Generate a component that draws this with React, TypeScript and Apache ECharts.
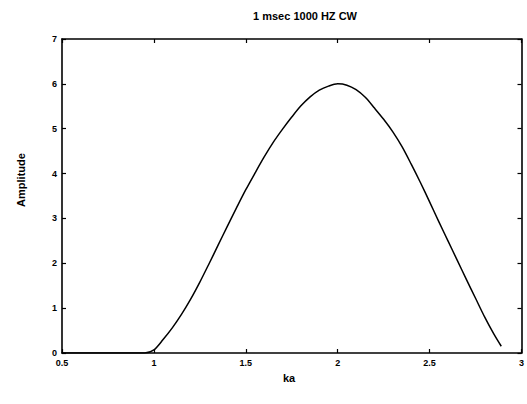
import React, { useEffect, useRef } from "react";
import * as echarts from "echarts";

const titleText = "1 msec 1000 HZ CW";
const xName = "ka";
const yName = "Amplitude";

const kaValues = [
  0.5, 0.95, 1.0, 1.05, 1.1, 1.15, 1.2, 1.25, 1.3, 1.35, 1.4, 1.45, 1.5, 1.55, 1.6, 1.65, 1.7, 1.75, 1.8,
  1.85, 1.9, 1.95, 2.0, 2.05, 2.1, 2.15, 2.2, 2.25, 2.3, 2.35, 2.4, 2.45, 2.5, 2.55, 2.6, 2.65, 2.7, 2.75,
  2.8, 2.85, 2.89,
];
const amplitudeValues = [
  0, 0, 0.07, 0.3, 0.56, 0.86, 1.2, 1.58, 1.99, 2.41, 2.83, 3.24, 3.64, 4.01, 4.37, 4.7, 4.99, 5.26, 5.51,
  5.71, 5.86, 5.95, 6.0, 5.97, 5.87, 5.7, 5.46, 5.21, 4.93, 4.6, 4.21, 3.8, 3.37, 2.93, 2.5, 2.07, 1.64, 1.22,
  0.8, 0.42, 0.15,
];

const xMin = 0.5;
const xMax = 3;
const xStep = 0.5;
const yMin = 0;
const yMax = 7;
const yStep = 1;

export default function App() {
  const ref = useRef<HTMLDivElement>(null);
  useEffect(() => {
    if (!ref.current) return;
    const chart = echarts.init(ref.current, null, { renderer: "svg" });
    const font = "'Liberation Sans', Arial, sans-serif";
    const axisCommon = {
      axisLine: { show: true, onZero: false, lineStyle: { color: "#000", width: 1.6 } },
      axisTick: { show: true, inside: true, length: 4, lineStyle: { color: "#000", width: 1.2 } },
      splitLine: { show: false },
    };
    const labelStyle = { color: "#000", fontFamily: font, fontWeight: "bold" as const, fontSize: 9 };
    chart.setOption({
      animation: false,
      backgroundColor: "#fff",
      grid: { left: 62, top: 39, width: 460, height: 314, containLabel: false },
      xAxis: [
        {
          type: "value", min: xMin, max: xMax, interval: xStep, position: "bottom",
          ...axisCommon,
          axisLabel: { ...labelStyle, margin: 5, formatter: (v: number) => String(v) },
        },
        {
          type: "value", min: xMin, max: xMax, interval: xStep, position: "top",
          ...axisCommon,
          axisLabel: { show: false },
        },
      ],
      yAxis: [
        {
          type: "value", min: yMin, max: yMax, interval: yStep, position: "left",
          ...axisCommon,
          axisLabel: { ...labelStyle, margin: 5 },
        },
        {
          type: "value", min: yMin, max: yMax, interval: yStep, position: "right",
          ...axisCommon,
          axisLabel: { show: false },
        },
      ],
      series: [
        {
          type: "line",
          data: kaValues.map((x, i) => [x, amplitudeValues[i]]),
          smooth: 0.3,
          showSymbol: false,
          lineStyle: { color: "#000", width: 1.5 },
          xAxisIndex: 0,
          yAxisIndex: 0,
        },
      ],
      graphic: [
        {
          type: "text", x: 305, y: 16,
          style: { text: titleText, fill: "#000", font: `bold 11px ${font}`, align: "center", verticalAlign: "middle" },
        },
        {
          type: "text", x: 289, y: 378,
          style: { text: xName, fill: "#000", font: `bold 11px ${font}`, align: "center", verticalAlign: "middle" },
        },
        {
          type: "text", x: 21, y: 180, rotation: Math.PI / 2,
          style: { text: yName, fill: "#000", font: `bold 11px ${font}`, align: "center", verticalAlign: "middle" },
        },
      ],
    });
    return () => chart.dispose();
  }, []);
  return (
    <div
      ref={ref}
      style={{ position: "absolute", left: 0, top: 0, width: 527, height: 404, background: "#fff" }}
    />
  );
}
